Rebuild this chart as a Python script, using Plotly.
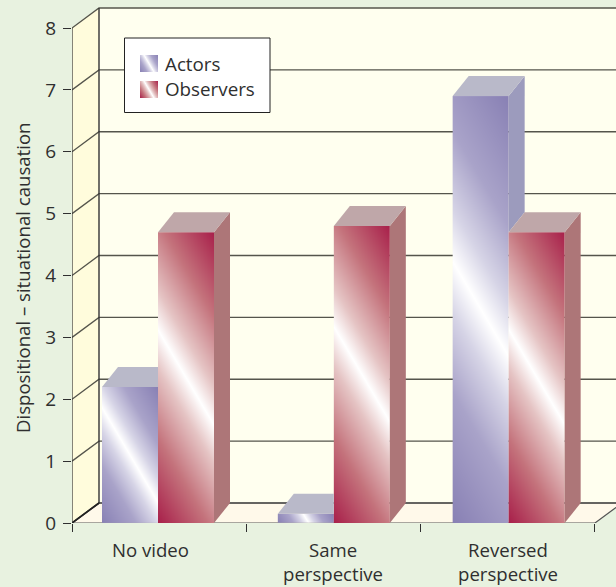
import numpy as np
import plotly.graph_objects as go

# Chart data
categories = [["No video"], ["Same", "perspective"], ["Reversed", "perspective"]]
category_centres = [0.45, 1.495, 2.5]
series_names = ["Actors", "Observers"]
actors = [2.2, 0.15, 6.9]
observers = [4.7, 4.8, 4.7]
y_ticks = [0, 1, 2, 3, 4, 5, 6, 7, 8]
axis_title = "Dispositional – situational causation"

# Canvas and scale
WIDTH, HEIGHT = 616, 587
LEFT, BOTTOM = 72, 64
PX_PER_CAT = 174.33
PX_PER_UNIT = 61.875
plot_h = HEIGHT - BOTTOM
plot_w = WIDTH - LEFT
x_max = plot_w / PX_PER_CAT
y_max = plot_h / PX_PER_UNIT

# Oblique depth of the walls and of the bars, in axis units
WALL_DX = 27 / PX_PER_CAT
BAR_DX = 16 / PX_PER_CAT
DEPTH_DY = 20 / PX_PER_UNIT
BAR_W = 56 / PX_PER_CAT
# left edge of each bar group, measured from its category start
GROUP_OFFSETS = [30 / PX_PER_CAT, 31.5 / PX_PER_CAT, 32 / PX_PER_CAT]

INK = "#2f2f2f"
FONT = "Open Sans"
BG = "#e8f2e0"
BACK_WALL = "#ffffef"
SIDE_WALL = "#fffcdc"
FLOOR = "#fff9ea"

ACTOR_SCALE = [[0, "#8880b4"], [0.25, "#a9a3c9"], [0.4, "#d6d4e6"], [0.5, "#ffffff"],
               [0.6, "#d6d4e6"], [0.75, "#a9a3c9"], [1, "#8880b4"]]
OBSERVER_SCALE = [[0, "#a81f4a"], [0.22, "#c4737c"], [0.4, "#e5c4c4"], [0.5, "#ffffff"],
                  [0.6, "#e5c4c4"], [0.78, "#c4737c"], [1, "#a81f4a"]]
ACTOR_TOP, ACTOR_SIDE = "#b9b9c9", "#9c9bbd"
OBSERVER_TOP, OBSERVER_SIDE = "#bfa7a9", "#ad7678"


def sheen(x0, x1, y0, y1, scale):
    """Front face of a bar: a heatmap carrying a slanted metallic highlight."""
    w_px = (x1 - x0) * PX_PER_CAT
    h_px = (y1 - y0) * PX_PER_UNIT
    xs = np.linspace(x0, x1, max(int(round(w_px)), 1) + 1)
    ys = np.linspace(y0, y1, max(int(round(h_px)), 1) + 1)
    cx = ((xs[:-1] + xs[1:]) / 2 - (x0 + x1) / 2) * PX_PER_CAT
    cy = ((ys[:-1] + ys[1:]) / 2 - (y0 + y1) / 2) * PX_PER_UNIT
    gx, gy = np.meshgrid(cx, cy)
    slope = 1.7
    z = (slope * gx + gy) / (slope * w_px / 2 + h_px / 2)
    return go.Heatmap(x=xs, y=ys, z=z, zmin=-1, zmax=1, colorscale=scale,
                      showscale=False, hoverinfo="skip", zsmooth=False)


def polygon(xs, ys, color):
    return go.Scatter(x=xs, y=ys, mode="lines", fill="toself", fillcolor=color,
                      line=dict(width=0), hoverinfo="skip", showlegend=False)


def poly_path(points):
    return "M" + "L".join(f"{x},{y}" for x, y in points) + "Z"


top = y_ticks[-1]
floor_right = len(categories)
shapes = []


def below(path=None, fill=None, **line):
    shapes.append(dict(type="path", path=path, xref="x", yref="y", layer="below",
                       fillcolor=fill, line=line or dict(width=0)))


# Back wall, side wall and floor
below(poly_path([(WALL_DX, DEPTH_DY), (x_max, DEPTH_DY), (x_max, top + DEPTH_DY), (WALL_DX, top + DEPTH_DY)]), BACK_WALL)
below(poly_path([(0, 0), (WALL_DX, DEPTH_DY), (WALL_DX, top + DEPTH_DY), (0, top)]), SIDE_WALL)
below(poly_path([(0, 0), (floor_right, 0), (floor_right + WALL_DX, DEPTH_DY), (WALL_DX, DEPTH_DY)]), FLOOR)

# Gridlines running along the side wall and across the back wall
for v in y_ticks:
    color, width = ("#333333", 1.6) if v == 0 else ("#55554c", 1.3)
    below(f"M0,{v}L{WALL_DX},{v + DEPTH_DY}L{x_max},{v + DEPTH_DY}", None, color=color, width=width)

# Frame edges
below(f"M{WALL_DX},{DEPTH_DY}L{WALL_DX},{top + DEPTH_DY}", None, color="#333333", width=1.4)
below(f"M0,0L0,{top}", None, color="#333333", width=1.2)
below(f"M0,0L{floor_right},0L{floor_right + WALL_DX},{DEPTH_DY}", None, color="#555555", width=1.2)
below(f"M0,0L{WALL_DX},{DEPTH_DY}", None, color="#222222", width=1.6)

# Legend box
lx0, lx1 = (124.5 - LEFT) / PX_PER_CAT, (270 - LEFT) / PX_PER_CAT
ly0, ly1 = (plot_h - 112.5) / PX_PER_UNIT, (plot_h - 38) / PX_PER_UNIT
below(poly_path([(lx0, ly0), (lx1, ly0), (lx1, ly1), (lx0, ly1)]), "#ffffff", color="#222222", width=1)

traces = []
for i in range(len(categories)):
    a, o = actors[i], observers[i]
    x0 = i + GROUP_OFFSETS[i]
    x1 = x0 + BAR_W
    x2 = x1 + BAR_W

    traces.append(sheen(x0, x1, 0, a, ACTOR_SCALE))
    traces.append(sheen(x1, x2, 0, o, OBSERVER_SCALE))

    # The part of the actor bar's side and top that the observer bar leaves visible
    if a > o:
        traces.append(polygon([x1, x1 + BAR_DX, x1 + BAR_DX, x1],
                              [a, a + DEPTH_DY, o + DEPTH_DY, o], ACTOR_SIDE))
        traces.append(polygon([x0, x1, x1 + BAR_DX, x0 + BAR_DX],
                              [a, a, a + DEPTH_DY, a + DEPTH_DY], ACTOR_TOP))
    else:
        traces.append(polygon([x0, x1, x1, x0 + BAR_DX],
                              [a, a, a + DEPTH_DY, a + DEPTH_DY], ACTOR_TOP))

    traces.append(polygon([x2, x2 + BAR_DX, x2 + BAR_DX, x2],
                          [0, DEPTH_DY, o + DEPTH_DY, o], OBSERVER_SIDE))
    traces.append(polygon([x1, x2, x2 + BAR_DX, x1 + BAR_DX],
                          [o, o, o + DEPTH_DY, o + DEPTH_DY], OBSERVER_TOP))

# Legend swatches
swatch_x0, swatch_x1 = (140 - LEFT) / PX_PER_CAT, (158 - LEFT) / PX_PER_CAT
for row_top, scale in zip((55, 81), (ACTOR_SCALE, OBSERVER_SCALE)):
    traces.append(sheen(swatch_x0, swatch_x1,
                        (plot_h - row_top - 17) / PX_PER_UNIT, (plot_h - row_top) / PX_PER_UNIT, scale))

fig = go.Figure(traces)


def paper_y(py):
    return 1 - py / plot_h


def paper_x(px):
    return (px - LEFT) / plot_w


annotations = [
    dict(text=axis_title, x=paper_x(22), y=paper_y(278), xref="paper", yref="paper",
         textangle=-90, showarrow=False, xanchor="center", yanchor="middle",
         font=dict(family=FONT, size=18.6, color=INK)),
]
for name, py in zip(series_names, (64, 89)):
    annotations.append(dict(text=name, x=paper_x(163), y=paper_y(py), xref="paper", yref="paper",
                            showarrow=False, xanchor="left", yanchor="middle",
                            font=dict(family=FONT, size=18.8, color=INK)))
for centre, lines in zip(category_centres, categories):
    for n, line in enumerate(lines):
        annotations.append(dict(text=line, x=centre, y=paper_y(549 + 24.5 * n), xref="x", yref="paper",
                                showarrow=False, xanchor="center", yanchor="middle",
                                font=dict(family=FONT, size=18.6, color=INK)))

fig.update_layout(
    width=WIDTH, height=HEIGHT, autosize=False,
    margin=dict(l=LEFT, r=0, t=0, b=BOTTOM, pad=0),
    paper_bgcolor=BG, plot_bgcolor=BG,
    showlegend=False,
    shapes=shapes,
    annotations=annotations,
    xaxis=dict(range=[0, x_max], showgrid=False, zeroline=False, showline=False,
               tickmode="array", tickvals=[0, 1, 2, 3], ticktext=["", "", "", ""],
               ticks="outside", ticklen=8, tickwidth=1, tickcolor=INK),
    yaxis=dict(range=[0, y_max], showgrid=False, zeroline=False, showline=False,
               tickmode="array", tickvals=y_ticks, ticks="outside", ticklen=8,
               tickwidth=1, tickcolor=INK, ticklabelstandoff=3,
               tickfont=dict(family=FONT, size=19, color=INK)),
)

fig.write_html("out.html", config=dict(displayModeBar=False))
